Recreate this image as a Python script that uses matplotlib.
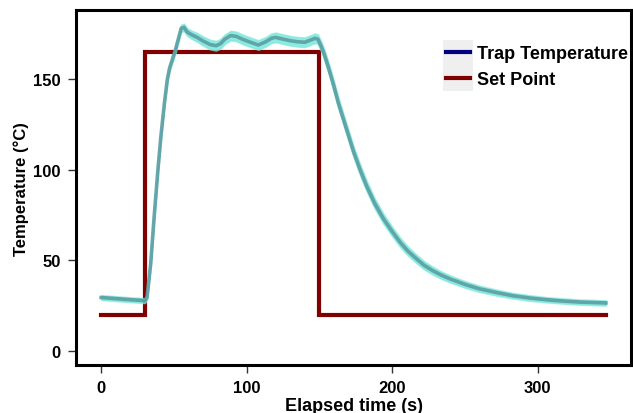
import matplotlib.pyplot as plt
from matplotlib.patches import Rectangle

plt.rcParams['font.family'] = ['Liberation Sans', 'DejaVu Sans']
plt.rcParams['font.weight'] = 'bold'

# trap temperature (mean of runs)
time_s = [0, 10, 20, 30, 31.5, 34, 36.5, 39, 41, 43.5, 45.5, 47, 49, 51, 53, 55,
          57, 59, 62, 66, 70, 75, 79, 82, 85, 89, 93, 97, 102, 108, 113, 117,
          120, 125, 131, 136, 140, 144, 147, 149, 151, 153, 155, 157.5, 160,
          163, 166.5, 170, 173.5, 178, 182.5, 188, 194, 200, 205.5, 211, 217,
          222, 228, 234, 240, 251, 260, 272, 283, 295, 306, 317, 329, 340, 347]
trap_temp = [29.5, 28.9, 28.3, 27.8, 29.5, 48, 75, 100, 118, 137, 150, 156, 161,
             166, 172, 178, 178.5, 176, 174.5, 173, 171, 169, 168.4, 169.5, 172,
             174, 173.5, 172, 170.5, 168.8, 170.5, 172.5, 173, 172, 171, 170.5,
             170.3, 171.5, 172.5, 172, 168.5, 164.5, 159.5, 153, 146, 137, 128,
             119, 110, 100, 91, 81.5, 73, 66, 60, 55, 50.7, 47.3, 44.3, 41.8,
             39.7, 36.5, 34.3, 32.2, 30.5, 29.2, 28.3, 27.6, 27.0, 26.7, 26.5]
# half width of the spread between runs
spread = [1.3, 1.3, 1.3, 1.3, 1.3, 1.3, 1.3, 1.3, 1.3, 1.4, 1.5, 1.6, 1.7,
          1.8, 2.0, 2.0, 2.0, 2.1, 2.2, 2.4, 2.5, 2.6, 2.6, 2.6, 2.6, 2.6, 2.6,
          2.6, 2.6, 2.6, 2.6, 2.6, 2.6, 2.6, 2.6, 2.6, 2.6, 2.6, 2.6, 2.6, 2.7,
          2.8, 2.9, 3.0, 3.0, 3.0, 3.0, 3.0, 3.0, 3.0, 2.9, 2.8, 2.7, 2.6, 2.5,
          2.4, 2.3, 2.2, 2.1, 2.0, 1.9, 1.8, 1.7, 1.6, 1.5, 1.5, 1.4, 1.4, 1.4,
          1.4, 1.4]

# set point
sp_time = [0, 30, 30, 150, 150, 347]
sp_temp = [20, 20, 165, 165, 20, 20]

fig = plt.figure(figsize=(6.33, 4.14), dpi=100)
ax = fig.add_axes([0.120, 0.116, 0.877, 0.857])

lo = [t - s for t, s in zip(trap_temp, spread)]
hi = [t + s for t, s in zip(trap_temp, spread)]
ax.plot(sp_time, sp_temp, color='#800000', lw=3, solid_joinstyle='miter', zorder=2)
ax.fill_between(time_s, lo, hi, color='#5fe3d3', alpha=0.7, lw=1.2,
                edgecolor='#7fe8da', zorder=3)
ax.plot(time_s, trap_temp, color='#5a9ea3', alpha=0.9, lw=2.6, zorder=4)

ax.plot([], [], color='#000080', lw=3, label='Trap Temperature')
ax.plot([], [], color='#800000', lw=3, label='Set Point')
leg = ax.legend(loc='upper left', bbox_to_anchor=(437 / 633, 1 - 37 / 414),
                bbox_transform=fig.transFigure, frameon=False, borderpad=0,
                handlelength=1.3, handletextpad=0.4, labelspacing=0.5,
                prop={'size': 13, 'weight': 'bold'})
leg.set_zorder(6)
ax.add_patch(Rectangle((443 / 633, 1 - 92 / 414), 30 / 633, 51 / 414,
                       transform=fig.transFigure, facecolor='#efefef',
                       edgecolor='none', clip_on=False, zorder=5))

ax.set_xlim(-17.35, 364.35)
ax.set_ylim(-7.7, 188)
ax.set_xticks([0, 100, 200, 300])
ax.set_yticks([0, 50, 100, 150])
for sp in ax.spines.values():
    sp.set_linewidth(2.2)
ax.tick_params(direction='out', length=6, width=1, color='#333333',
               labelsize=12, pad=5)
ax.set_xlabel('Elapsed time (s)', fontsize=13, fontweight='bold', labelpad=1)
ax.set_ylabel('Temperature (°C)', fontsize=12, fontweight='bold', labelpad=3)

fig.savefig('out.png', dpi=100)
